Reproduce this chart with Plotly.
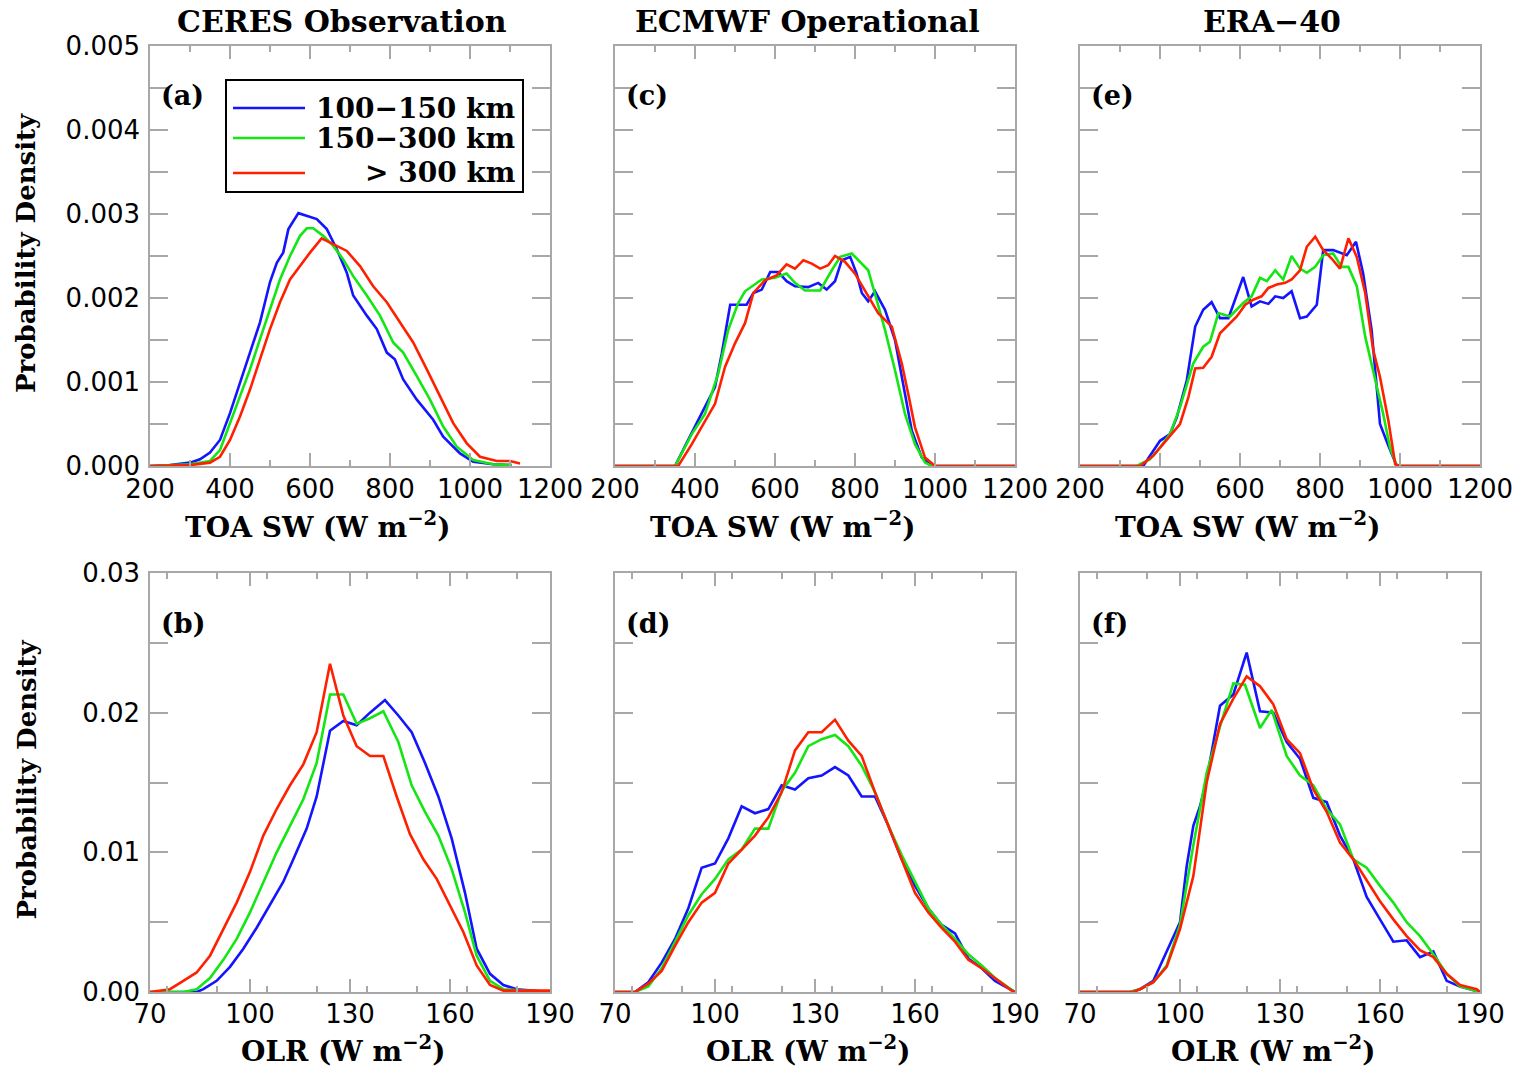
import plotly.graph_objects as go

# ---------------- data ----------------
# Panel (a) CERES, TOA SW
a_blue_x = [200, 250, 300, 325, 350, 375, 400, 425, 450, 475, 500, 517, 533, 546, 571, 600, 617, 642, 667, 692, 708, 742, 767, 792, 812, 833, 867, 908, 933, 975, 1008, 1058, 1104]
a_blue_y = [0, 0.00001, 0.00004, 0.00008, 0.00016, 0.00031, 0.00063, 0.00099, 0.00135, 0.00171, 0.00219, 0.00242, 0.00254, 0.00282, 0.00301, 0.00296, 0.00294, 0.00282, 0.00258, 0.0023, 0.00203, 0.00179, 0.00163, 0.00135, 0.00127, 0.00103, 0.00079, 0.00055, 0.00035, 0.00015, 0.00005, 0.00002, 0.00001]
a_green_x = [200, 300, 350, 375, 400, 425, 450, 475, 500, 525, 550, 575, 592, 608, 633, 658, 683, 708, 742, 775, 808, 833, 867, 900, 933, 967, 1008, 1058, 1104]
a_green_y = [0, 0.00002, 0.00006, 0.00019, 0.00051, 0.00083, 0.00115, 0.00151, 0.00187, 0.00222, 0.0025, 0.00274, 0.00283, 0.00283, 0.00274, 0.00262, 0.00246, 0.00226, 0.00203, 0.00179, 0.00147, 0.00135, 0.00107, 0.00079, 0.00047, 0.00023, 0.00007, 0.00002, 0.00001]
a_red_x = [200, 300, 350, 375, 400, 425, 450, 475, 500, 525, 550, 575, 600, 629, 658, 692, 725, 758, 792, 825, 858, 892, 925, 958, 992, 1025, 1067, 1100, 1125]
a_red_y = [0, 0.00001, 0.00004, 0.00011, 0.00031, 0.00059, 0.00091, 0.00127, 0.00163, 0.00195, 0.00222, 0.00238, 0.00254, 0.00271, 0.00264, 0.00256, 0.00238, 0.00214, 0.00195, 0.00171, 0.00147, 0.00115, 0.00083, 0.00051, 0.00027, 0.00011, 0.00006, 0.00006, 0.00003]

# Panel (c) ECMWF operational, TOA SW
c_blue_x = [200, 350, 383, 425, 450, 467, 488, 529, 546, 567, 588, 608, 629, 650, 683, 708, 729, 750, 767, 788, 804, 817, 833, 850, 875, 900, 921, 942, 967, 992, 1200]
c_blue_y = [0, 0, 0.00031, 0.0007, 0.00094, 0.00134, 0.00192, 0.00192, 0.00206, 0.0021, 0.00231, 0.00231, 0.0022, 0.00214, 0.00213, 0.00218, 0.0021, 0.0022, 0.00245, 0.00249, 0.00229, 0.00206, 0.00196, 0.00208, 0.00186, 0.0015, 0.00098, 0.00042, 0.0001, 0, 0]
c_green_x = [200, 350, 392, 425, 458, 483, 508, 525, 567, 600, 629, 650, 675, 713, 742, 763, 792, 808, 833, 854, 875, 900, 925, 950, 975, 992, 1200]
c_green_y = [0, 0, 0.00038, 0.00062, 0.0011, 0.00162, 0.00194, 0.00208, 0.00222, 0.00224, 0.00229, 0.00218, 0.00209, 0.00209, 0.00233, 0.00249, 0.00253, 0.00245, 0.00233, 0.00198, 0.00162, 0.00114, 0.00062, 0.00026, 0.00004, 0, 0]
c_red_x = [200, 358, 392, 425, 450, 475, 500, 525, 546, 575, 604, 629, 650, 671, 692, 713, 733, 750, 775, 800, 833, 858, 892, 917, 933, 950, 975, 1000, 1200]
c_red_y = [0, 0, 0.00026, 0.00054, 0.00074, 0.00118, 0.00146, 0.0017, 0.00206, 0.00221, 0.00227, 0.0024, 0.00235, 0.00245, 0.00241, 0.00235, 0.00239, 0.0025, 0.00243, 0.00229, 0.00202, 0.00182, 0.00166, 0.00122, 0.00086, 0.00046, 0.0001, 0, 0]

# Panel (e) ERA-40, TOA SW
e_blue_x = [200, 358, 400, 425, 442, 467, 488, 508, 529, 550, 571, 608, 629, 650, 671, 688, 708, 729, 750, 767, 792, 808, 833, 867, 890, 908, 929, 950, 971, 992, 1200]
e_blue_y = [0, 0, 0.0003, 0.00038, 0.00058, 0.00102, 0.00166, 0.00186, 0.00195, 0.00176, 0.00176, 0.00225, 0.0019, 0.00196, 0.00193, 0.00202, 0.002, 0.00208, 0.00176, 0.00178, 0.00192, 0.00257, 0.00257, 0.00251, 0.00267, 0.00229, 0.00162, 0.0005, 0.00024, 0, 0]
e_green_x = [200, 342, 375, 400, 425, 450, 483, 508, 525, 546, 575, 608, 629, 650, 667, 688, 708, 729, 750, 767, 788, 808, 833, 854, 871, 892, 913, 933, 958, 975, 992, 1200]
e_green_y = [0, 0, 0.00008, 0.00022, 0.00038, 0.0007, 0.00122, 0.00142, 0.00148, 0.00182, 0.00178, 0.00194, 0.00202, 0.00224, 0.0022, 0.00233, 0.00222, 0.0025, 0.00235, 0.0023, 0.00237, 0.00251, 0.00253, 0.00237, 0.00237, 0.00214, 0.00154, 0.00114, 0.00062, 0.00022, 0, 0]
e_red_x = [200, 350, 383, 408, 433, 450, 471, 488, 508, 529, 550, 571, 592, 613, 633, 654, 671, 692, 713, 729, 750, 767, 788, 808, 829, 850, 871, 892, 913, 933, 950, 971, 988, 1000, 1200]
e_red_y = [0, 0, 0.00012, 0.00026, 0.0004, 0.0005, 0.00082, 0.00116, 0.00117, 0.0013, 0.00158, 0.00168, 0.00178, 0.00192, 0.00198, 0.00202, 0.00212, 0.00216, 0.00218, 0.00222, 0.00233, 0.00261, 0.00273, 0.00257, 0.00247, 0.00235, 0.00271, 0.00249, 0.00206, 0.00138, 0.00106, 0.00054, 0.00002, 0, 0]

# Panel (b) CERES, OLR
b_blue_x = [70, 84, 86, 90, 94, 98, 102, 106, 110, 113, 117, 120, 124, 128, 132, 136, 140.5, 144.5, 148.5, 152.5, 156.5, 160.5, 164.5, 168, 172, 176, 180, 190]
b_blue_y = [0, 0, 0.0002, 0.0008, 0.0018, 0.0031, 0.0046, 0.0062, 0.0079, 0.0095, 0.0117, 0.014, 0.0187, 0.0194, 0.0191, 0.02, 0.0209, 0.0198, 0.0186, 0.0164, 0.014, 0.011, 0.0071, 0.0031, 0.0013, 0.0005, 0.0002, 0]
b_green_x = [70, 80, 84, 88, 92, 96, 100, 104, 108, 112, 116, 120, 124, 128, 132, 136, 140, 144.5, 148.5, 152.5, 156.5, 160.5, 164.5, 168, 172, 176, 190]
b_green_y = [0, 0, 0.0002, 0.001, 0.0023, 0.0038, 0.0057, 0.0079, 0.01, 0.0119, 0.0138, 0.0164, 0.0213, 0.0213, 0.0192, 0.0196, 0.0201, 0.0179, 0.0148, 0.0129, 0.0112, 0.0088, 0.0057, 0.0026, 0.0008, 0.0002, 0]
b_red_x = [70, 76, 80, 84, 88, 92, 96, 100, 104, 108, 112, 116, 120, 124, 128, 132, 136, 140, 144, 148, 152, 156, 160, 164, 168, 172, 176, 190]
b_red_y = [0, 0.0002, 0.0008, 0.0014, 0.0026, 0.0045, 0.0064, 0.0086, 0.0112, 0.0131, 0.0148, 0.0163, 0.0186, 0.0235, 0.0198, 0.0176, 0.0169, 0.0169, 0.014, 0.0113, 0.0095, 0.0081, 0.0062, 0.0043, 0.0019, 0.0005, 0.0001, 0.0001]

# Panel (d) ECMWF operational, OLR
d_x = [70, 76, 80, 84, 88, 92, 96, 100, 104, 108, 112, 116, 120, 124, 128, 132, 136, 140, 144, 148, 152, 156, 160, 164, 168, 172, 176, 180, 184, 189, 190]
d_blue_y = [0, 0, 0.0007, 0.0021, 0.0038, 0.006, 0.0089, 0.0092, 0.011, 0.0133, 0.0128, 0.0131, 0.0148, 0.0145, 0.0153, 0.0155, 0.0161, 0.0155, 0.014, 0.014, 0.0119, 0.0095, 0.0076, 0.006, 0.0048, 0.0042, 0.0024, 0.0017, 0.0008, 0.0001, 0]
d_green_y = [0, 0, 0.0004, 0.0017, 0.0036, 0.0055, 0.007, 0.0081, 0.0095, 0.0102, 0.0117, 0.0117, 0.0144, 0.0157, 0.0176, 0.0181, 0.0184, 0.0176, 0.0162, 0.0143, 0.0119, 0.0098, 0.0079, 0.006, 0.0048, 0.0038, 0.0027, 0.0019, 0.001, 0.0002, 0]
d_red_y = [0, 0, 0.0006, 0.0015, 0.0033, 0.005, 0.0064, 0.0071, 0.0092, 0.0102, 0.0112, 0.0125, 0.0143, 0.0173, 0.0186, 0.0186, 0.0195, 0.018, 0.0169, 0.0143, 0.0119, 0.0095, 0.0071, 0.0057, 0.0046, 0.0036, 0.0023, 0.0017, 0.001, 0.0001, 0]

# Panel (f) ERA-40, OLR
f_blue_x = [70, 85, 88, 92, 96, 100, 102, 104, 106, 108, 112, 114.5, 116, 120, 124, 128, 132, 136, 140, 144, 148, 152, 156, 160, 164, 168, 172, 176, 180, 184, 189, 190]
f_blue_y = [0, 0, 0.0002, 0.0008, 0.0029, 0.005, 0.009, 0.0119, 0.0133, 0.0152, 0.0205, 0.021, 0.0213, 0.0243, 0.0201, 0.02, 0.0179, 0.0167, 0.0139, 0.0136, 0.0112, 0.0095, 0.0068, 0.0052, 0.0036, 0.0037, 0.0025, 0.0029, 0.0008, 0.0004, 0.0001, 0]
f_green_x = [70, 85, 88, 92, 96, 100, 104, 108, 112, 116, 119.5, 124, 127.5, 132, 136, 140, 144, 148, 152, 156, 160, 164, 168, 172, 176, 180, 184, 189, 190]
f_green_y = [0, 0, 0.0002, 0.0007, 0.0019, 0.0048, 0.0105, 0.0157, 0.019, 0.0221, 0.022, 0.0189, 0.0202, 0.0169, 0.0155, 0.0148, 0.0131, 0.012, 0.0095, 0.0089, 0.0076, 0.0064, 0.005, 0.004, 0.0027, 0.0013, 0.0004, 0.0001, 0]
f_red_x = [70, 86, 88, 92, 96, 100, 104, 108, 112, 116, 120, 124, 128, 132, 136, 140, 144, 148, 152, 156, 160, 164, 168, 172, 176, 180, 184, 189, 190]
f_red_y = [0, 0, 0.0002, 0.0007, 0.0018, 0.0045, 0.0083, 0.015, 0.0192, 0.021, 0.0226, 0.0219, 0.0206, 0.0181, 0.0171, 0.0145, 0.0129, 0.0107, 0.0095, 0.008, 0.0065, 0.0052, 0.004, 0.003, 0.0025, 0.0013, 0.0005, 0.0002, 0]

series_names = ["100\u2212150 km", "150\u2212300 km", "> 300 km"]
column_titles = ["CERES Observation", "ECMWF Operational", "ERA\u221240"]
panel_labels = ["(a)", "(c)", "(e)", "(b)", "(d)", "(f)"]
sw_title = "TOA SW (W m<sup>\u22122</sup>)"
olr_title = "OLR (W m<sup>\u22122</sup>)"
y_title = "Probability Density"
colors = ["#1414ff", "#14e614", "#ff2000"]

# ---------------- layout geometry (pixels) ----------------
W, H = 1526, 1072
col_px = [(150, 550), (615, 1015), (1080, 1480)]
row_px = [(46, 466), (573, 992)]
xtitle_px = [525, 1049]
legend_box_px = (226, 80, 523, 192)          # x0, y0, x1, y1
legend_rows_px = [108, 138, 173]
legend_line_px = (233, 305)
legend_text_right_px = 517

panels = [
    (0, 0, [(a_blue_x, a_blue_y), (a_green_x, a_green_y), (a_red_x, a_red_y)]),
    (0, 1, [(c_blue_x, c_blue_y), (c_green_x, c_green_y), (c_red_x, c_red_y)]),
    (0, 2, [(e_blue_x, e_blue_y), (e_green_x, e_green_y), (e_red_x, e_red_y)]),
    (1, 0, [(b_blue_x, b_blue_y), (b_green_x, b_green_y), (b_red_x, b_red_y)]),
    (1, 1, [(d_x, d_blue_y), (d_x, d_green_y), (d_x, d_red_y)]),
    (1, 2, [(f_blue_x, f_blue_y), (f_green_x, f_green_y), (f_red_x, f_red_y)]),
]

FRAME = "#a8a8a8"
TICKFONT = dict(family="DejaVu Sans", size=26, color="black")
SERIF = "DejaVu Serif"


def px_x(p):
    return p / W


def px_y(p):
    return 1 - p / H


fig = go.Figure()
layout = dict(
    width=W, height=H, margin=dict(l=0, r=0, t=0, b=0, autoexpand=False),
    paper_bgcolor="white", plot_bgcolor="white",
    showlegend=False,
    annotations=[], shapes=[],
)

for i, (r, c, curves) in enumerate(panels):
    n = i + 1
    xs = "" if n == 1 else str(n)
    x0, x1 = col_px[c]
    y0, y1 = row_px[r]
    for k, (xv, yv) in enumerate(curves):
        fig.add_trace(go.Scatter(
            x=xv, y=yv, mode="lines", name=series_names[k],
            line=dict(color=colors[k], width=2.6),
            xaxis="x" + xs, yaxis="y" + xs,
            showlegend=False,
        ))
    common = dict(showline=True, linecolor=FRAME, linewidth=1.5, mirror="ticks",
                  ticks="inside", tickcolor=FRAME, tickwidth=1.5, automargin=False,
                  showgrid=False, zeroline=False, tickfont=TICKFONT, tickangle=0)
    if r == 0:
        xax = dict(common, range=[200, 1200], tick0=200, dtick=200, ticklen=13,
                   minor=dict(dtick=100, ticklen=6, ticks="inside", tickcolor=FRAME, tickwidth=1.5),
                   ticklabelstandoff=-1)
        yax = dict(common, range=[0, 0.005], tick0=0, dtick=0.001, tickformat=".3f", ticklen=18,
                   minor=dict(dtick=0.0005, ticklen=18, ticks="inside", tickcolor=FRAME, tickwidth=1.5))
    else:
        xax = dict(common, range=[70, 190], tick0=70, dtick=30, ticklen=13,
                   minor=dict(dtick=15, ticklen=6, ticks="inside", tickcolor=FRAME, tickwidth=1.5),
                   ticklabelstandoff=-2)
        yax = dict(common, range=[0, 0.03], tick0=0, dtick=0.01, tickformat=".2f", ticklen=18,
                   minor=dict(dtick=0.005, ticklen=18, ticks="inside", tickcolor=FRAME, tickwidth=1.5))
    xax["domain"] = [px_x(x0), px_x(x1)]
    yax["domain"] = [px_y(y1), px_y(y0)]
    xax["anchor"] = "y" + xs
    yax["anchor"] = "x" + xs
    if c == 0:
        yax["ticklabelstandoff"] = 3
    else:
        yax["showticklabels"] = False
    layout["xaxis" + xs] = xax
    layout["yaxis" + xs] = yax

    # panel label
    layout["annotations"].append(dict(
        text=panel_labels[i], xref="x" + xs + " domain", yref="y" + xs + " domain",
        x=0, y=1, xanchor="left", yanchor="middle", xshift=9, yshift=-50, showarrow=False,
        font=dict(family=SERIF, size=27, color="black", weight="bold")))
    # x axis title
    shift = -32 if r == 0 else -7
    layout["annotations"].append(dict(
        text=sw_title if r == 0 else olr_title, xref="x" + xs + " domain", yref="paper",
        x=0.5, y=px_y(xtitle_px[r]), xanchor="center", yanchor="middle", xshift=shift, showarrow=False,
        font=dict(family=SERIF, size=28, color="black", weight="bold")))
    # y axis title
    if c == 0:
        layout["annotations"].append(dict(
            text=y_title, xref="paper", yref="y" + xs + " domain", textangle=-90,
            x=px_x(26), y=0.5, xanchor="center", yanchor="middle", yshift=3, showarrow=False,
            font=dict(family=SERIF, size=26, color="black", weight="bold")))
    # column title
    if r == 0:
        layout["annotations"].append(dict(
            text=column_titles[c], xref="x" + xs + " domain", yref="paper",
            x=0.5, y=px_y(21), xanchor="center", yanchor="middle", xshift=-8, showarrow=False,
            font=dict(family=SERIF, size=30, color="black", weight="bold")))

# ---------------- legend box (panel a) ----------------
bx0, by0, bx1, by1 = legend_box_px
layout["shapes"].append(dict(
    type="rect", xref="paper", yref="paper",
    x0=px_x(bx0), x1=px_x(bx1), y0=px_y(by1), y1=px_y(by0),
    line=dict(color="black", width=2), fillcolor="white", layer="above"))
for k in range(3):
    yk = legend_rows_px[k]
    layout["shapes"].append(dict(
        type="line", xref="paper", yref="paper",
        x0=px_x(legend_line_px[0]), x1=px_x(legend_line_px[1]), y0=px_y(yk), y1=px_y(yk),
        line=dict(color=colors[k], width=2.6), layer="above"))
    layout["annotations"].append(dict(
        text=series_names[k], xref="paper", yref="paper",
        x=px_x(legend_text_right_px), y=px_y(yk), xanchor="right", yanchor="middle",
        showarrow=False, font=dict(family=SERIF, size=28, color="black", weight="bold")))

fig.update_layout(**layout)
fig.write_html("out.html", config={"displayModeBar": False},
               post_script="document.body.style.margin='0px';")
